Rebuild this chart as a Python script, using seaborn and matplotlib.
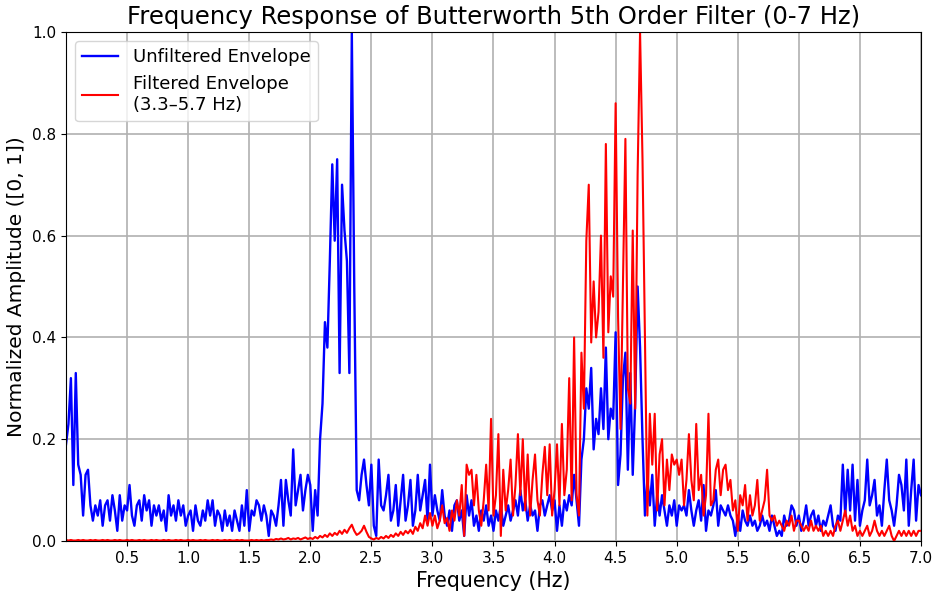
import matplotlib
matplotlib.use('Agg')

import matplotlib.pyplot as plt
import seaborn as sns
import numpy as np
import pandas as pd

# frequency grid (Hz), 0.02 Hz spacing
freq = np.round(np.arange(0, 7.0001, 0.02), 2)

# unfiltered envelope spectrum
unfiltered_env = [
    0.19, 0.23, 0.32, 0.11, 0.33, 0.15, 0.13, 0.05, 0.13, 0.14, 0.07, 0.04, 0.07, 0.05, 0.08, 0.03, 0.07, 0.08, 0.04, 0.09, 0.06, 0.02, 0.09, 0.04, 0.07,
    0.06, 0.11, 0.05, 0.03, 0.07, 0.08, 0.04, 0.09, 0.06, 0.08, 0.03, 0.07, 0.05, 0.07, 0.04, 0.06, 0.02, 0.09, 0.05, 0.07, 0.04, 0.08, 0.05, 0.07, 0.03,
    0.05, 0.06, 0.02, 0.07, 0.04, 0.03, 0.06, 0.04, 0.08, 0.05, 0.08, 0.03, 0.06, 0.05, 0.02, 0.06, 0.03, 0.05, 0.02, 0.06, 0.04, 0.02, 0.07, 0.03, 0.10,
    0.02, 0.06, 0.05, 0.08, 0.07, 0.04, 0.07, 0.05, 0.01, 0.06, 0.05, 0.03, 0.07, 0.12, 0.03, 0.12, 0.08, 0.05, 0.18, 0.07, 0.10, 0.13, 0.06, 0.10, 0.13,
    0.11, 0.02, 0.10, 0.05, 0.20, 0.27, 0.43, 0.38, 0.55, 0.74, 0.59, 0.75, 0.33, 0.70, 0.61, 0.55, 0.33, 1.00, 0.50, 0.10, 0.08, 0.13, 0.16, 0.11, 0.07,
    0.15, 0.03, 0.01, 0.16, 0.07, 0.06, 0.09, 0.13, 0.04, 0.06, 0.11, 0.03, 0.08, 0.13, 0.04, 0.07, 0.12, 0.03, 0.06, 0.13, 0.06, 0.09, 0.12, 0.04, 0.15,
    0.05, 0.09, 0.06, 0.04, 0.10, 0.05, 0.03, 0.06, 0.02, 0.07, 0.08, 0.04, 0.06, 0.01, 0.09, 0.05, 0.08, 0.03, 0.05, 0.02, 0.06, 0.04, 0.07, 0.03, 0.05,
    0.02, 0.06, 0.04, 0.07, 0.03, 0.05, 0.07, 0.04, 0.06, 0.08, 0.05, 0.10, 0.06, 0.08, 0.04, 0.07, 0.05, 0.06, 0.02, 0.07, 0.08, 0.05, 0.07, 0.09, 0.06,
    0.08, 0.02, 0.07, 0.03, 0.08, 0.06, 0.09, 0.07, 0.13, 0.08, 0.03, 0.16, 0.20, 0.30, 0.26, 0.34, 0.18, 0.24, 0.21, 0.30, 0.22, 0.38, 0.20, 0.26, 0.24,
    0.41, 0.11, 0.17, 0.32, 0.37, 0.14, 0.33, 0.13, 0.27, 0.50, 0.38, 0.20, 0.05, 0.12, 0.07, 0.13, 0.03, 0.09, 0.05, 0.09, 0.06, 0.03, 0.07, 0.05, 0.08,
    0.03, 0.07, 0.06, 0.07, 0.05, 0.10, 0.06, 0.03, 0.06, 0.08, 0.04, 0.11, 0.02, 0.06, 0.05, 0.07, 0.10, 0.03, 0.07, 0.06, 0.05, 0.07, 0.05, 0.04, 0.01,
    0.05, 0.02, 0.06, 0.04, 0.03, 0.05, 0.03, 0.04, 0.02, 0.03, 0.05, 0.03, 0.04, 0.02, 0.05, 0.03, 0.01, 0.02, 0.01, 0.05, 0.03, 0.04, 0.07, 0.06, 0.03,
    0.05, 0.02, 0.04, 0.07, 0.03, 0.05, 0.06, 0.03, 0.05, 0.02, 0.04, 0.03, 0.05, 0.07, 0.03, 0.02, 0.05, 0.04, 0.15, 0.05, 0.14, 0.06, 0.15, 0.04, 0.12,
    0.03, 0.06, 0.08, 0.16, 0.07, 0.09, 0.12, 0.05, 0.07, 0.03, 0.10, 0.16, 0.08, 0.06, 0.03, 0.07, 0.13, 0.11, 0.06, 0.16, 0.03, 0.10, 0.16, 0.04, 0.11, 0.09,
]

# band-passed envelope spectrum (3.3-5.7 Hz)
filtered_env = [
    0.002, 0.001, 0.002, 0.001, 0.001, 0.002, 0.001, 0.002, 0.001, 0.001, 0.002, 0.001, 0.002, 0.001, 0.001, 0.002, 0.001, 0.002, 0.001, 0.001, 0.002, 0.001, 0.002, 0.001, 0.001,
    0.002, 0.001, 0.002, 0.001, 0.001, 0.002, 0.001, 0.002, 0.001, 0.001, 0.002, 0.001, 0.002, 0.001, 0.001, 0.002, 0.001, 0.002, 0.001, 0.001, 0.002, 0.001, 0.002, 0.001, 0.001,
    0.002, 0.001, 0.002, 0.001, 0.001, 0.002, 0.001, 0.002, 0.001, 0.001, 0.002, 0.001, 0.002, 0.001, 0.001, 0.002, 0.001, 0.002, 0.001, 0.001, 0.002, 0.001, 0.002, 0.001, 0.001,
    0.001, 0.002, 0.001, 0.002, 0.001, 0.002, 0.001, 0.002, 0.002, 0.003, 0.002, 0.004, 0.003, 0.005, 0.003, 0.004, 0.006, 0.003, 0.005, 0.004, 0.006, 0.003, 0.005, 0.007, 0.004,
    0.006, 0.004, 0.008, 0.005, 0.010, 0.007, 0.012, 0.008, 0.015, 0.010, 0.016, 0.012, 0.020, 0.014, 0.022, 0.016, 0.025, 0.032, 0.020, 0.012, 0.015, 0.020, 0.030, 0.018, 0.008,
    0.005, 0.003, 0.006, 0.004, 0.008, 0.005, 0.010, 0.006, 0.012, 0.008, 0.015, 0.010, 0.018, 0.012, 0.020, 0.015, 0.022, 0.014, 0.028, 0.020, 0.035, 0.025, 0.050, 0.030, 0.055,
    0.030, 0.050, 0.025, 0.040, 0.070, 0.035, 0.045, 0.020, 0.060, 0.040, 0.080, 0.050, 0.110, 0.010, 0.150, 0.130, 0.140, 0.070, 0.130, 0.060, 0.030, 0.080, 0.150, 0.060, 0.240,
    0.050, 0.090, 0.210, 0.010, 0.140, 0.060, 0.100, 0.160, 0.050, 0.110, 0.210, 0.090, 0.200, 0.060, 0.170, 0.050, 0.120, 0.170, 0.080, 0.050, 0.130, 0.185, 0.090, 0.190, 0.050,
    0.10, 0.19, 0.07, 0.23, 0.09, 0.14, 0.32, 0.08, 0.40, 0.09, 0.05, 0.37, 0.26, 0.59, 0.70, 0.39, 0.51, 0.40, 0.45, 0.60, 0.36, 0.78, 0.41, 0.52, 0.48,
    0.86, 0.44, 0.22, 0.50, 0.79, 0.30, 0.27, 0.61, 0.26, 0.72, 1.00, 0.75, 0.40, 0.05, 0.25, 0.15, 0.25, 0.06, 0.17, 0.20, 0.07, 0.16, 0.10, 0.17, 0.15,
    0.16, 0.13, 0.16, 0.07, 0.12, 0.21, 0.12, 0.08, 0.23, 0.10, 0.13, 0.05, 0.09, 0.25, 0.07, 0.08, 0.14, 0.16, 0.09, 0.14, 0.15, 0.10, 0.12, 0.06, 0.08,
    0.02, 0.09, 0.07, 0.11, 0.04, 0.09, 0.05, 0.07, 0.12, 0.04, 0.06, 0.08, 0.14, 0.05, 0.04, 0.05, 0.03, 0.04, 0.03, 0.02, 0.04, 0.03, 0.05, 0.02, 0.04,
    0.04, 0.03, 0.02, 0.03, 0.02, 0.04, 0.02, 0.03, 0.02, 0.03, 0.01, 0.02, 0.01, 0.02, 0.01, 0.03, 0.04, 0.02, 0.04, 0.06, 0.03, 0.05, 0.02, 0.03, 0.01,
    0.02, 0.01, 0.02, 0.03, 0.01, 0.02, 0.04, 0.02, 0.01, 0.02, 0.01, 0.02, 0.03, 0.01, 0.00, 0.01, 0.02, 0.01, 0.02, 0.01, 0.02, 0.01, 0.02, 0.01, 0.02, 0.02,
]

x_ticks = [0.5, 1.0, 1.5, 2.0, 2.5, 3.0, 3.5, 4.0, 4.5, 5.0, 5.5, 6.0, 6.5, 7.0]
y_ticks = [0.0, 0.2, 0.4, 0.6, 0.8, 1.0]

df = pd.DataFrame({
    "freq": freq,
    "unfiltered": unfiltered_env,
    "filtered": filtered_env,
})

fig = plt.figure(figsize=(9.35, 5.98), dpi=100)
ax = fig.add_subplot(111)
fig.subplots_adjust(left=0.0706, right=0.985, top=0.9465, bottom=0.0953)

sns.lineplot(data=df, x="freq", y="unfiltered", color="blue", linewidth=1.7,
             estimator=None, label="Unfiltered Envelope", ax=ax)
sns.lineplot(data=df, x="freq", y="filtered", color="red", linewidth=1.5,
             estimator=None, label="Filtered Envelope\n(3.3\u20135.7 Hz)", ax=ax)

ax.set_xlim(0, 7)
ax.set_ylim(0, 1)
ax.set_xticks(x_ticks)
ax.set_yticks(y_ticks)
ax.tick_params(labelsize=11)
ax.grid(True, color="#b0b0b0", linewidth=1.2)

ax.set_title("Frequency Response of Butterworth 5th Order Filter (0-7 Hz)", fontsize=17.5)
ax.set_xlabel("Frequency (Hz)", fontsize=14.8)
ax.set_ylabel("Normalized Amplitude ([0, 1])", fontsize=14.5)
ax.legend(loc="upper left", fontsize=13)

plt.savefig("out.png", dpi=100)
plt.close()
